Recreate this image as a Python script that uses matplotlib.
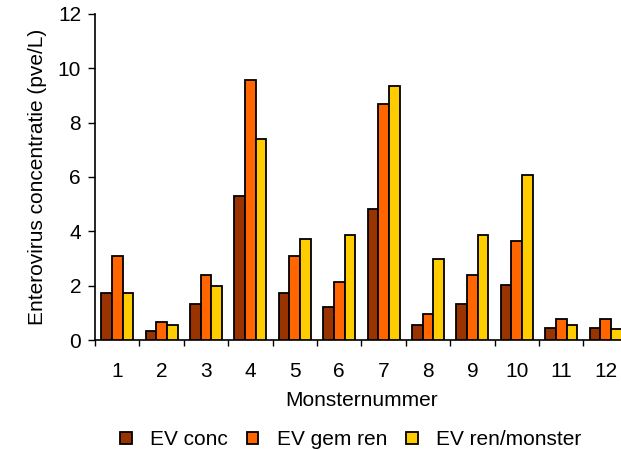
import numpy as np
import matplotlib.pyplot as plt

plt.rcParams['font.family'] = ['Liberation Sans', 'DejaVu Sans']

monsters = ['1', '2', '3', '4', '5', '6', '7', '8', '9', '10', '11', '12']
ev_conc = [1.72, 0.35, 1.31, 5.3, 1.72, 1.2, 4.82, 0.54, 1.31, 2.03, 0.43, 0.43]
ev_gem_ren = [3.1, 0.66, 2.38, 9.58, 3.1, 2.15, 8.69, 0.96, 2.38, 3.65, 0.77, 0.77]
ev_ren_monster = [1.72, 0.54, 1.98, 7.38, 3.7, 3.87, 9.36, 2.97, 3.87, 6.09, 0.54, 0.4]

series = [('EV conc', ev_conc, '#993300'),
          ('EV gem ren', ev_gem_ren, '#FF6600'),
          ('EV ren/monster', ev_ren_monster, '#FFCC00')]

fs = 15

fig = plt.figure(figsize=(6.21, 4.5), dpi=100)
ax = fig.add_axes([0.153, 0.2444, 0.858, 0.7246])

x = np.arange(len(monsters))
w = 0.24
for i, (name, vals, col) in enumerate(series):
    ax.bar(x + (i - 1) * w, vals, w, color=col, edgecolor='black',
           linewidth=1.3, label=name, zorder=3)

ax.set_xlim(-0.5, len(monsters) - 0.5)
ax.set_ylim(0, 12)
ax.set_yticks(range(0, 13, 2))
ax.set_xticks(x)
ax.set_xticklabels(monsters, fontsize=fs)
ax.set_xticks(np.arange(-0.5, len(monsters), 1), minor=True)
ax.tick_params(axis='x', which='major', length=0, pad=16)
ax.tick_params(axis='x', which='minor', length=4, width=1, direction='out')
ax.tick_params(axis='y', length=5, width=1, labelsize=fs, pad=5)
for s in ['top', 'right']:
    ax.spines[s].set_visible(False)
for s in ['left', 'bottom']:
    ax.spines[s].set_linewidth(1.2)

ax.set_xlabel('Monsternummer', fontsize=fs, labelpad=7)
ax.set_ylabel('Enterovirus concentratie (pve/L)', fontsize=fs, labelpad=8)

fig.legend(loc='lower center', bbox_to_anchor=(0.565, -0.04), ncol=3,
           frameon=False, fontsize=fs, handlelength=0.55, handleheight=0.55,
           columnspacing=0.9, handletextpad=0.9)

fig.savefig('out.png', dpi=100)
